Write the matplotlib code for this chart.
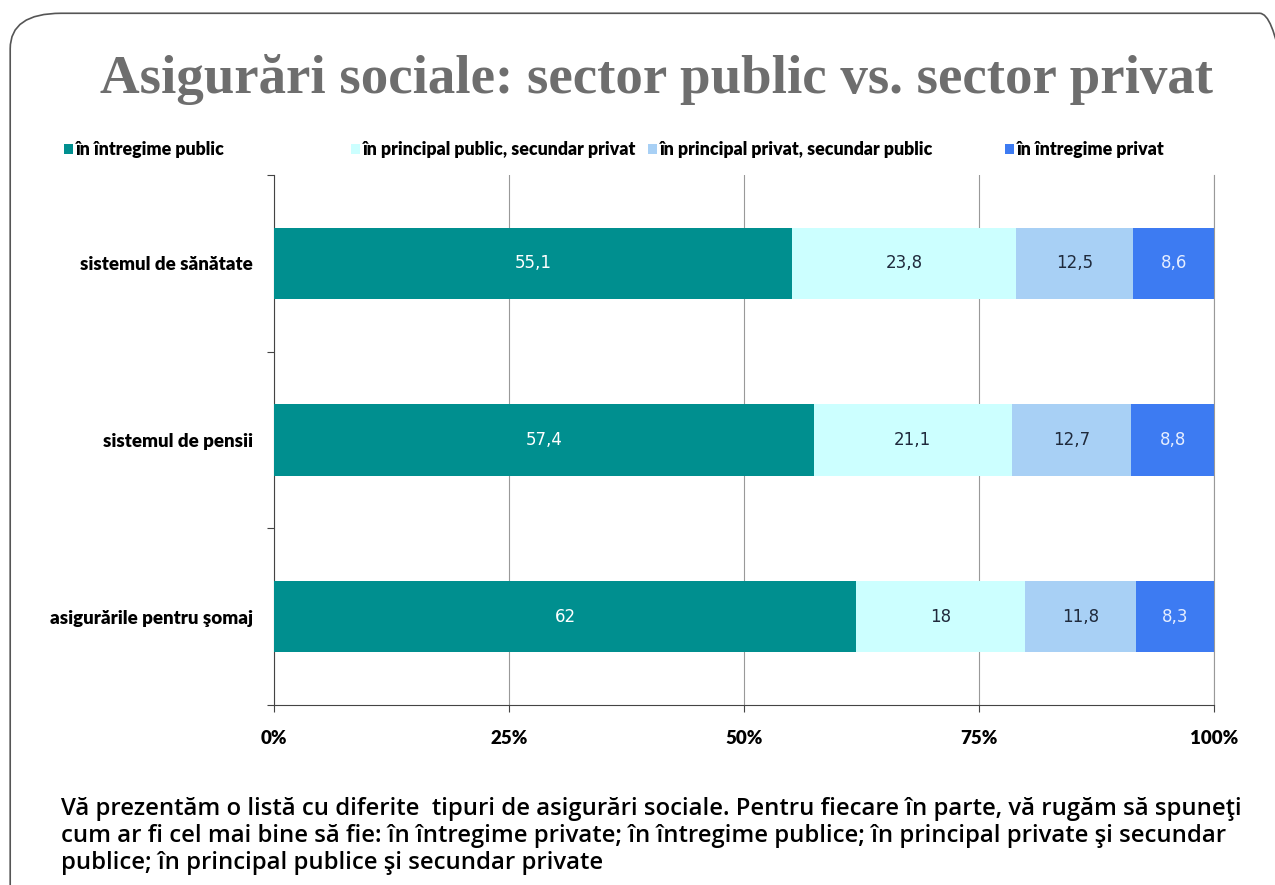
import numpy as np
import matplotlib.pyplot as plt
from matplotlib.patches import FancyBboxPatch, Rectangle

categories = ['sistemul de sănătate', 'sistemul de pensii', 'asigurările pentru şomaj']
series_names = ['în întregime public', 'în principal public, secundar privat',
                'în principal privat, secundar public', 'în întregime privat']
intregime_public = [55.1, 57.4, 62]
principal_public = [23.8, 21.1, 18]
principal_privat = [12.5, 12.7, 11.8]
intregime_privat = [8.6, 8.8, 8.3]
value_labels = [['55,1', '57,4', '62'], ['23,8', '21,1', '18'],
                ['12,5', '12,7', '11,8'], ['8,6', '8,8', '8,3']]
tick_labels = ['0%', '25%', '50%', '75%', '100%']

colors = ['#008F8F', '#CCFFFF', '#A8D0F5', '#3D7BF2']
text_colors = ['white', '#1F2A3C', '#1F2A3C', '#E6EEFF']
narrow = ['Lato', 'DejaVu Sans']

fig = plt.figure(figsize=(12.75, 8.85), dpi=100)

# rounded slide border
fig.patches.append(FancyBboxPatch((0.008, -0.05), 1.02, 1.035,
                                  boxstyle='round,pad=0,rounding_size=0.04',
                                  transform=fig.transFigure, facecolor='none',
                                  edgecolor='#555555', linewidth=1.2, zorder=0))

fig.text(0.515, 0.91, 'Asigurări sociale: sector public vs. sector privat',
         ha='center', va='center', fontsize=39.5, fontweight='bold',
         family=['Liberation Serif', 'DejaVu Serif'], color='#6E6E6E')

ax = fig.add_axes([0.2149, 0.2034, 0.7373, 0.5989])
data = [intregime_public, principal_public, principal_privat, intregime_privat]
y = np.arange(len(categories))
left = np.zeros(len(categories))
total = np.array([sum(d[i] for d in data) for i in range(len(categories))])
for vals, col, labs, tcol in zip(data, colors, value_labels, text_colors):
    widths = np.array(vals, dtype=float) / total * 100
    ax.barh(y, widths, left=left, height=0.405, color=col, zorder=3)
    for yi, l, w, lab in zip(y, left, widths, labs):
        ax.text(l + w / 2, yi, lab, ha='center', va='center', fontsize=12,
                family='DejaVu Sans', color=tcol, zorder=4)
    left = left + widths

ax.set_xlim(0, 100)
ax.set_ylim(2.5, -0.5)
ax.set_xticks([0, 25, 50, 75, 100])
ax.set_xticklabels(tick_labels, family=narrow, fontweight='heavy', fontsize=13.5)
ax.set_yticks([-0.5, 0.5, 1.5, 2.5])
ax.set_yticklabels([])
ax.set_yticks(y, minor=True)
ax.set_yticklabels(categories, minor=True, family=narrow, fontweight='heavy', fontsize=13.5)
ax.tick_params(axis='y', which='minor', length=0, pad=15)
ax.tick_params(axis='y', which='major', length=5, color='#444444')
ax.tick_params(axis='x', length=5, color='#444444', pad=13)
ax.grid(axis='x', color='#999999', linewidth=0.8, zorder=0)
ax.spines['top'].set_visible(False)
ax.spines['right'].set_color('#999999')
ax.spines['right'].set_linewidth(0.8)
for s in ['left', 'bottom']:
    ax.spines[s].set_color('#444444')

# legend row
legend_x = [0.050, 0.275, 0.508, 0.788]
for lx, col, name in zip(legend_x, colors, series_names):
    fig.patches.append(Rectangle((lx, 0.826), 0.0075, 0.011, transform=fig.transFigure,
                                 facecolor=col, edgecolor='none'))
    fig.text(lx + 0.0095, 0.8315, name, ha='left', va='center', fontsize=12.8,
             fontweight='heavy', family=narrow, color='black')

footer = ('Vă prezentăm o listă cu diferite  tipuri de asigurări sociale. Pentru fiecare în parte, vă rugăm să spuneţi\n'
          'cum ar fi cel mai bine să fie: în întregime private; în întregime publice; în principal private şi secundar\n'
          'publice; în principal publice şi secundar private')
fig.text(0.048, 0.0555, footer, ha='left', va='center', fontsize=17.2, fontweight='semibold',
         family=['Open Sans', 'DejaVu Sans'], linespacing=1.18, color='black')

fig.savefig('out.png', dpi=100)
